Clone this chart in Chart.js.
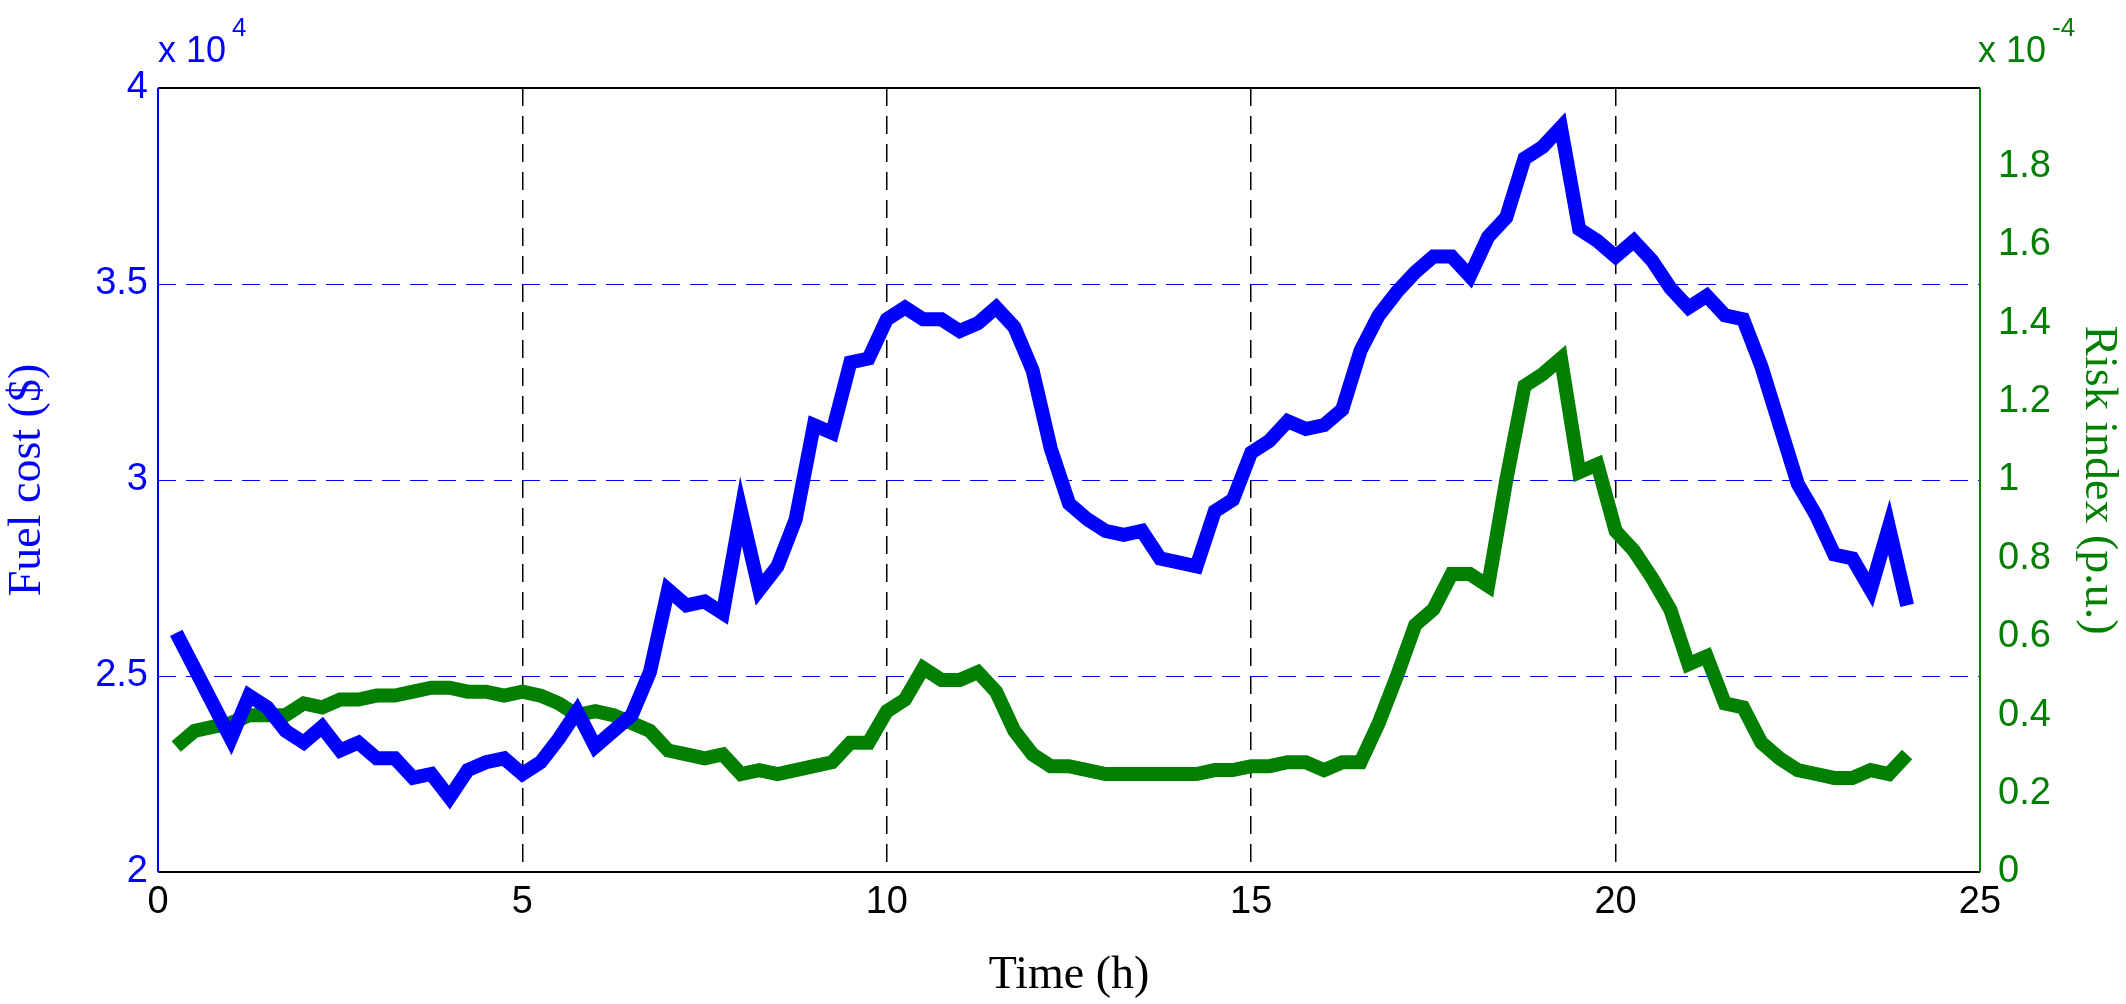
<!DOCTYPE html>
<html>
<head>
<meta charset="utf-8">
<script src="https://cdn.jsdelivr.net/npm/chart.js@4/dist/chart.umd.min.js"></script>
<style>
	html, body { margin: 0; padding: 0; background: #fff; }
	#wrap { width: 2126px; height: 1004px; }
</style>
</head>
<body>
<div id="wrap"><canvas id="risk_cost_line"></canvas></div>
<script>
// time of day (h), one point every 15 minutes
const hours = [
	0.25, 0.5, 0.75, 1, 1.25, 1.5, 1.75, 2, 2.25, 2.5, 2.75, 3,
	3.25, 3.5, 3.75, 4, 4.25, 4.5, 4.75, 5, 5.25, 5.5, 5.75, 6,
	6.25, 6.5, 6.75, 7, 7.25, 7.5, 7.75, 8, 8.25, 8.5, 8.75, 9,
	9.25, 9.5, 9.75, 10, 10.25, 10.5, 10.75, 11, 11.25, 11.5, 11.75, 12,
	12.25, 12.5, 12.75, 13, 13.25, 13.5, 13.75, 14, 14.25, 14.5, 14.75, 15,
	15.25, 15.5, 15.75, 16, 16.25, 16.5, 16.75, 17, 17.25, 17.5, 17.75, 18,
	18.25, 18.5, 18.75, 19, 19.25, 19.5, 19.75, 20, 20.25, 20.5, 20.75, 21,
	21.25, 21.5, 21.75, 22, 22.25, 22.5, 22.75, 23, 23.25, 23.5, 23.75, 24
];
// fuel cost, x 10^4 $
const fuelCost = [
	2.61, 2.52, 2.43, 2.34, 2.45, 2.42, 2.36, 2.33, 2.37, 2.31, 2.33, 2.29,
	2.29, 2.24, 2.25, 2.19, 2.26, 2.28, 2.29, 2.25, 2.28, 2.34, 2.41, 2.32,
	2.36, 2.40, 2.51, 2.72, 2.68, 2.69, 2.66, 2.92, 2.72, 2.78, 2.90, 3.14,
	3.12, 3.30, 3.31, 3.41, 3.44, 3.41, 3.41, 3.38, 3.40, 3.44, 3.39, 3.28,
	3.08, 2.94, 2.90, 2.87, 2.86, 2.87, 2.80, 2.79, 2.78, 2.92, 2.95, 3.07,
	3.10, 3.15, 3.13, 3.14, 3.18, 3.33, 3.42, 3.48, 3.53, 3.57, 3.57, 3.52,
	3.62, 3.67, 3.82, 3.85, 3.90, 3.64, 3.61, 3.57, 3.61, 3.56, 3.49, 3.44,
	3.47, 3.42, 3.41, 3.29, 3.14, 2.99, 2.91, 2.81, 2.80, 2.72, 2.88, 2.68
];
// risk index, x 10^-4 p.u.
const riskIndex = [
	0.32, 0.36, 0.37, 0.38, 0.40, 0.40, 0.40, 0.43, 0.42, 0.44, 0.44, 0.45,
	0.45, 0.46, 0.47, 0.47, 0.46, 0.46, 0.45, 0.46, 0.45, 0.43, 0.40, 0.41,
	0.40, 0.38, 0.36, 0.31, 0.30, 0.29, 0.30, 0.25, 0.26, 0.25, 0.26, 0.27,
	0.28, 0.33, 0.33, 0.41, 0.44, 0.52, 0.49, 0.49, 0.51, 0.46, 0.36, 0.30,
	0.27, 0.27, 0.26, 0.25, 0.25, 0.25, 0.25, 0.25, 0.25, 0.26, 0.26, 0.27,
	0.27, 0.28, 0.28, 0.26, 0.28, 0.28, 0.38, 0.50, 0.63, 0.67, 0.76, 0.76,
	0.73, 1.00, 1.24, 1.27, 1.31, 1.02, 1.04, 0.87, 0.82, 0.75, 0.67, 0.53,
	0.55, 0.43, 0.42, 0.33, 0.29, 0.26, 0.25, 0.24, 0.24, 0.26, 0.25, 0.30
];
const xTicks = [0, 5, 10, 15, 20, 25];

const BLUE = '#0000ff';
const GREEN = '#007f00';

const frame = {
	id: 'frame',
	afterDraw(chart) {
		const c = chart.ctx, a = chart.chartArea;
		c.save();
		c.strokeStyle = '#000';
		c.lineWidth = 2;
		c.beginPath();
		c.moveTo(a.left, a.top); c.lineTo(a.right, a.top);
		c.moveTo(a.left, a.bottom); c.lineTo(a.right, a.bottom);
		c.stroke();
		c.strokeStyle = BLUE;
		c.beginPath(); c.moveTo(a.left, a.top); c.lineTo(a.left, a.bottom); c.stroke();
		c.strokeStyle = GREEN;
		c.beginPath(); c.moveTo(a.right, a.top); c.lineTo(a.right, a.bottom); c.stroke();
		// exponent labels
		c.font = '36px "Liberation Sans"';
		c.textBaseline = 'alphabetic';
		c.fillStyle = BLUE;
		c.fillText('x 10', a.left, a.top - 26);
		c.font = '26px "Liberation Sans"';
		c.fillText('4', a.left + 74, a.top - 52);
		c.fillStyle = GREEN;
		c.font = '36px "Liberation Sans"';
		c.fillText('x 10', a.right - 2, a.top - 26);
		c.font = '26px "Liberation Sans"';
		c.fillText('-4', a.right + 72, a.top - 52);
		c.restore();
	}
};

const ctx = document.getElementById('risk_cost_line').getContext('2d');
new Chart(ctx, {
	type: 'line',
	data: {
		datasets: [{
			label: 'Fuel cost',
			data: hours.map((h, i) => ({ x: h, y: fuelCost[i] })),
			borderColor: BLUE,
			borderWidth: 14,
			pointRadius: 0,
			yAxisID: 'y'
		}, {
			label: 'Risk index',
			data: hours.map((h, i) => ({ x: h, y: riskIndex[i] })),
			borderColor: GREEN,
			borderWidth: 14,
			pointRadius: 0,
			yAxisID: 'y1'
		}]
	},
	options: {
		responsive: true,
		maintainAspectRatio: false,
		animation: false,
		layout: { padding: { top: 88, right: 0 } },
		plugins: { legend: { display: false }, tooltip: { enabled: false } },
		scales: {
			x: {
				type: 'linear',
				min: 0, max: 25,
				afterBuildTicks: (s) => { s.ticks = xTicks.map(v => ({ value: v })); },
				afterFit: (s) => { s.height = 132; },
				grid: {
					color: (c) => (c.tick.value > 0 && c.tick.value < 25) ? '#000' : 'rgba(0,0,0,0)',
					lineWidth: 1.5,
					tickLength: 0
				},
				border: { display: false, dash: [18, 10] },
				ticks: { color: '#000', font: { family: 'Liberation Sans', size: 38 }, padding: 8 },
				title: { display: true, text: 'Time (h)', color: '#000', font: { family: 'Liberation Serif', size: 46 }, padding: 0 }
			},
			y: {
				position: 'left',
				min: 2, max: 4,
				ticks: {
					stepSize: 0.5, color: BLUE, font: { family: 'Liberation Sans', size: 38 }, padding: 10,
					callback: (v) => (Math.round(v * 10) / 10).toString()
				},
				afterFit: (s) => { s.width = 158; },
				grid: {
					color: (c) => (c.tick.value > 2 && c.tick.value < 4) ? BLUE : 'rgba(0,0,0,0)',
					lineWidth: 1,
					tickLength: 0
				},
				border: { display: false, dash: [18, 10] },
				title: { display: true, text: 'Fuel cost ($)', color: BLUE, font: { family: 'Liberation Serif', size: 46 }, padding: 0 }
			},
			y1: {
				position: 'right',
				min: 0, max: 2,
				ticks: {
					stepSize: 0.2, color: GREEN, font: { family: 'Liberation Sans', size: 38 }, padding: 10,
					callback: (v) => v >= 1.99 ? '' : (Math.round(v * 10) / 10).toString()
				},
				afterFit: (s) => { s.width = 146; },
				grid: { display: false },
				border: { display: false },
				title: { display: true, text: 'Risk index (p.u.)', color: GREEN, font: { family: 'Liberation Serif', size: 46 }, padding: 0 }
			}
		}
	},
	plugins: [frame]
});
</script>
</body>
</html>
